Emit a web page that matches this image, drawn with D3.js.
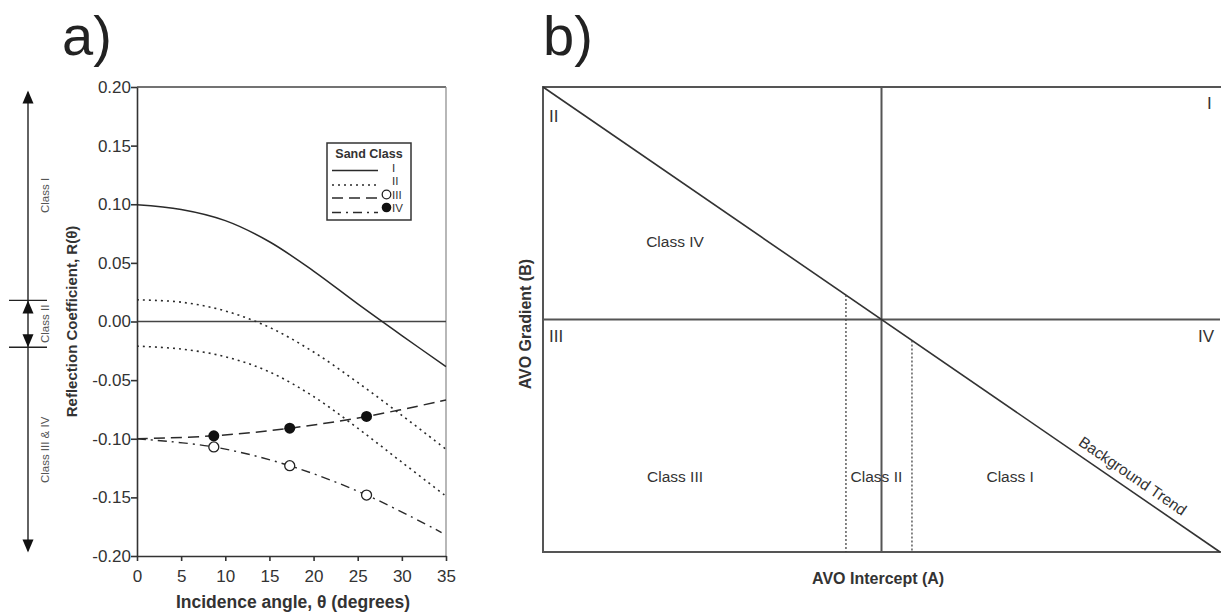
<!DOCTYPE html>
<html><head><meta charset="utf-8">
<script src="https://cdn.jsdelivr.net/npm/d3@7"></script>
<style>body{margin:0;background:#fff}svg{display:block;font-family:"Liberation Sans",Arial,sans-serif}</style>
</head><body><svg id="c" width="1221" height="615"></svg>
<script>
// ---------- DATA ----------
const angleTicks = [0,5,10,15,20,25,30,35];
const rTicks = [-0.20,-0.15,-0.10,-0.05,0.00,0.05,0.10,0.15,0.20];
const classI_angle = [0,5,10,15,20,25,30,35];
const classI_R     = [0.0995,0.0955,0.086,0.068,0.043,0.015,-0.012,-0.0385];
const classIIa_angle = [0,5,10,15,20,25,30,35];
const classIIa_R     = [0.0185,0.0165,0.009,-0.005,-0.026,-0.052,-0.080,-0.109];
const classIIb_angle = [0,5,10,15,20,25,30,35];
const classIIb_R     = [-0.021,-0.0235,-0.030,-0.043,-0.064,-0.091,-0.120,-0.149];
const dashed_angle = [0,8.7,17.3,26,35];
const dashed_R     = [-0.100,-0.0975,-0.091,-0.081,-0.067];
const dashdot_angle = [0,8.7,17.3,26,34.5];
const dashdot_R     = [-0.100,-0.107,-0.123,-0.148,-0.180];
const filledPts_angle = [8.7,17.3,26];
const filledPts_R     = [-0.0975,-0.091,-0.081];
const openPts_angle = [8.7,17.3,26];
const openPts_R     = [-0.107,-0.123,-0.148];
const legendLabels = ["I","II","III","IV"];
const classBounds = [0.197,0.018,-0.022,-0.197];
const classLabelsA = ["Class I","Class II","Class III & IV"];
// panel b
const trendA = [-1,1];
const trendB = [1,-1];
const class2Bounds = [-0.105,0.09];
const quadrantLabels = ["I","II","III","IV"];
const classLabelsB = [{t:"Class IV",a:-0.61,b:0.31},{t:"Class III",a:-0.61,b:-0.70},{t:"Class II",a:-0.015,b:-0.70},{t:"Class I",a:0.38,b:-0.70}];

const svg = d3.select("#c");
const ink = "#2a2a2a";
const font = "'Liberation Sans',Arial,sans-serif";

// ---------- PANEL A ----------
const xA = d3.scaleLinear().domain([0,35]).range([137,446]);
const yA = d3.scaleLinear().domain([-0.2,0.2]).range([556,87]);
const gA = svg.append("g");

gA.append("text").attr("x",62).attr("y",55).attr("font-size",56).attr("fill","#222").text("a)");

// frame
gA.append("line").attr("x1",xA(0)).attr("x2",xA(35)).attr("y1",yA(0.2)).attr("y2",yA(0.2)).attr("stroke","#444").attr("stroke-width",1.6);
gA.append("line").attr("x1",xA(35)).attr("x2",xA(35)).attr("y1",yA(0.2)).attr("y2",yA(-0.2)).attr("stroke","#888").attr("stroke-width",1.2);
gA.append("line").attr("x1",xA(0)).attr("x2",xA(35)).attr("y1",yA(0)).attr("y2",yA(0)).attr("stroke","#444").attr("stroke-width",1.4);

const axL = gA.append("g").attr("transform",`translate(${xA(0)},0)`)
  .call(d3.axisLeft(yA).tickValues(rTicks).tickFormat(d3.format(".2f")).tickSize(6).tickSizeOuter(0));
const axB = gA.append("g").attr("transform",`translate(0,${yA(-0.2)})`)
  .call(d3.axisBottom(xA).tickValues(angleTicks).tickSize(5).tickSizeOuter(0));
[axL,axB].forEach(a=>{
  a.selectAll("path,line").attr("stroke","#333").attr("stroke-width",1.6);
  a.selectAll("text").attr("font-family",font).attr("font-size",17).attr("fill","#333");
});
axL.selectAll("text").attr("x",-6).text(d=>d.toFixed(2).replace("-0.00","0.00"));
axB.selectAll("text").attr("dy","1.05em");

gA.append("text").attr("x",293).attr("y",608).attr("text-anchor","middle").attr("font-size",17.5).attr("font-weight","bold").attr("fill","#333").text("Incidence angle, θ (degrees)");
gA.append("text").attr("transform",`translate(77,${yA(0)}) rotate(-90)`).attr("text-anchor","middle").attr("font-size",15).attr("font-weight","bold").attr("fill","#333").text("Reflection Coefficient, R(θ)");

// curves
const line = d3.line().x(d=>xA(d[0])).y(d=>yA(d[1])).curve(d3.curveCatmullRom.alpha(0.5));
const zip=(a,b)=>a.map((v,i)=>[v,b[i]]);
const series = [
  {d:zip(classI_angle,classI_R),dash:null,w:1.5},
  {d:zip(classIIa_angle,classIIa_R),dash:"2,4",w:1.6},
  {d:zip(classIIb_angle,classIIb_R),dash:"2,4",w:1.6},
  {d:zip(dashed_angle,dashed_R),dash:"11,6",w:1.5},
  {d:zip(dashdot_angle,dashdot_R),dash:"9,5,2,5",w:1.4}
];
series.forEach(s=>{
  const p=gA.append("path").attr("d",line(s.d)).attr("fill","none").attr("stroke",ink).attr("stroke-width",s.w);
  if(s.dash) p.attr("stroke-dasharray",s.dash);
});
gA.selectAll("circle.f").data(zip(filledPts_angle,filledPts_R)).enter().append("circle")
  .attr("cx",d=>xA(d[0])).attr("cy",d=>yA(d[1])).attr("r",5.5).attr("fill","#111");
gA.selectAll("circle.o").data(zip(openPts_angle,openPts_R)).enter().append("circle")
  .attr("cx",d=>xA(d[0])).attr("cy",d=>yA(d[1])).attr("r",5).attr("fill","#fff").attr("stroke","#222").attr("stroke-width",1.3);

// legend
const lg = gA.append("g");
lg.append("rect").attr("x",327).attr("y",143).attr("width",84).attr("height",77).attr("fill","#fff").attr("stroke","#333").attr("stroke-width",1.5);
lg.append("text").attr("x",369).attr("y",157.5).attr("text-anchor","middle").attr("font-size",12.5).attr("font-weight","bold").attr("fill","#333").text("Sand Class");
const lgDash=[null,"2,4","11,6","9,5,2,5"];
const lgLineY=[170.5,185,198,212.5], lgTextY=[171.5,185,198.5,212];
legendLabels.forEach((t,i)=>{
  const l=lg.append("line").attr("x1",332).attr("x2",378).attr("y1",lgLineY[i]).attr("y2",lgLineY[i]).attr("stroke",ink).attr("stroke-width",1.4);
  if(lgDash[i]) l.attr("stroke-dasharray",lgDash[i]);
  lg.append("text").attr("x",392).attr("y",lgTextY[i]).attr("font-size",11.5).attr("fill","#333").text(t);
});
lg.append("circle").attr("cx",386.5).attr("cy",194.5).attr("r",4.3).attr("fill","#fff").attr("stroke","#222").attr("stroke-width",1.3);
lg.append("circle").attr("cx",386.5).attr("cy",207.5).attr("r",4.8).attr("fill","#111");

// left class annotation
const ann = gA.append("g");
ann.append("line").attr("x1",28).attr("x2",28).attr("y1",yA(classBounds[0])+2).attr("y2",yA(classBounds[3])-2).attr("stroke","#222").attr("stroke-width",1.4);
[classBounds[1],classBounds[2]].forEach(v=>ann.append("line").attr("x1",9).attr("x2",47).attr("y1",yA(v)).attr("y2",yA(v)).attr("stroke","#222").attr("stroke-width",1.4));
const arrow=(tipY,dir)=>ann.append("path").attr("d",`M28,${tipY} L${28-5.5},${tipY+dir*13} L${28+5.5},${tipY+dir*13} Z`).attr("fill","#111");
arrow(yA(classBounds[0]),1); arrow(yA(classBounds[1]),1); arrow(yA(classBounds[2]),-1); arrow(yA(classBounds[3]),-1);
const mids=[(classBounds[0]+classBounds[1])/2,(classBounds[1]+classBounds[2])/2,(classBounds[2]+classBounds[3])/2];
classLabelsA.forEach((t,i)=>ann.append("text").attr("transform",`translate(49,${yA(mids[i])}) rotate(-90)`).attr("text-anchor","middle").attr("font-size",11.5).attr("fill","#555").text(t));

// ---------- PANEL B ----------
const xB = d3.scaleLinear().domain([-1,1]).range([543,1220]);
const yB = d3.scaleLinear().domain([-1,1]).range([552,87]);
const gB = svg.append("g");
gB.append("text").attr("x",543).attr("y",55).attr("font-size",56).attr("fill","#222").text("b)");
const fr="#555";
gB.append("rect").attr("x",xB(-1)).attr("y",yB(1)).attr("width",xB(1)-xB(-1)+4).attr("height",yB(-1)-yB(1)).attr("fill","none").attr("stroke",fr).attr("stroke-width",2);
gB.append("line").attr("x1",xB(0)).attr("x2",xB(0)).attr("y1",yB(1)).attr("y2",yB(-1)).attr("stroke",fr).attr("stroke-width",2);
gB.append("line").attr("x1",xB(-1)).attr("x2",xB(1)).attr("y1",yB(0)).attr("y2",yB(0)).attr("stroke",fr).attr("stroke-width",2);
gB.append("line").attr("x1",xB(trendA[0])).attr("y1",yB(trendB[0])).attr("x2",xB(trendA[1])).attr("y2",yB(trendB[1])).attr("stroke","#333").attr("stroke-width",1.6);
class2Bounds.forEach(a=>gB.append("line").attr("x1",xB(a)).attr("x2",xB(a)).attr("y1",yB(-a)).attr("y2",yB(-1)).attr("stroke","#444").attr("stroke-width",1.3).attr("stroke-dasharray","2,2"));

const qPos=[{x:xB(1)-13,y:yB(1)+22},{x:xB(-1)+6,y:yB(1)+35},{x:xB(-1)+6,y:yB(0)+22},{x:xB(1)-22,y:yB(0)+22}];
quadrantLabels.forEach((t,i)=>gB.append("text").attr("x",qPos[i].x).attr("y",qPos[i].y).attr("font-size",17).attr("fill","#333").text(t));
classLabelsB.forEach(c=>gB.append("text").attr("x",xB(c.a)).attr("y",yB(c.b)).attr("text-anchor","middle").attr("font-size",15.5).attr("fill","#333").text(c.t));
const ang=Math.atan2(yB(-1)-yB(1),xB(1)-xB(-1))*180/Math.PI;
gB.append("text").attr("transform",`translate(${xB(0.72)},${yB(-0.72)}) rotate(${ang}) translate(0,-8)`).attr("text-anchor","middle").attr("font-size",15.5).attr("fill","#333").text("Background Trend");
gB.append("text").attr("x",xB(-0.01)).attr("y",584).attr("text-anchor","middle").attr("font-size",16).attr("font-weight","bold").attr("fill","#333").text("AVO Intercept (A)");
gB.append("text").attr("transform",`translate(531,${yB(-0.02)}) rotate(-90)`).attr("text-anchor","middle").attr("font-size",16).attr("font-weight","bold").attr("fill","#333").text("AVO Gradient (B)");
</script></body></html>
